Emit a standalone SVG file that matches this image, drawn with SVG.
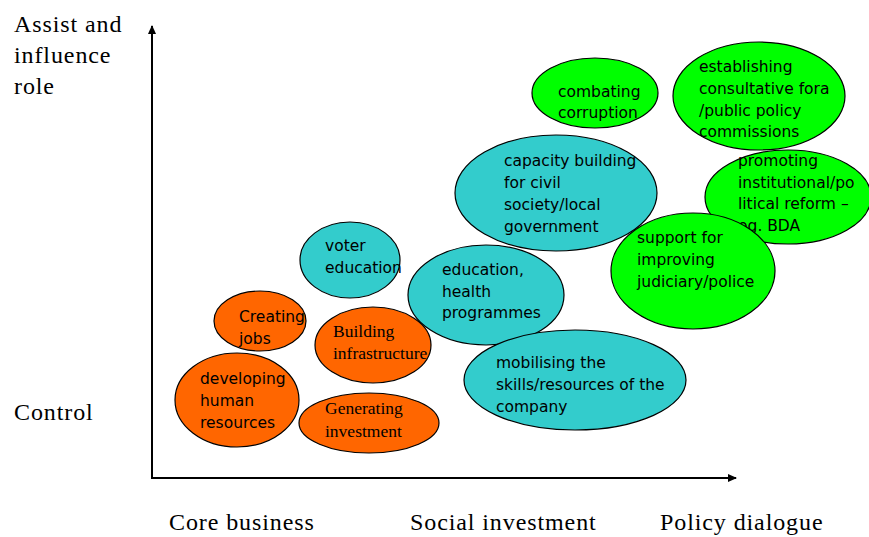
<svg xmlns="http://www.w3.org/2000/svg" width="869" height="537" viewBox="0 0 869 537">
<style>
.o{fill:#FF6600;stroke:#000;stroke-width:1.2}
.c{fill:#33CCCC;stroke:#000;stroke-width:1.2}
.g{fill:#00FF00;stroke:#000;stroke-width:1.2}
.t{font-family:"DejaVu Sans","Liberation Sans",sans-serif;font-size:15.5px;fill:#000}
.s{font-family:"Liberation Serif",serif;font-size:17.5px;fill:#000}
.a{font-family:"Liberation Serif",serif;font-size:24px;letter-spacing:0.9px;fill:#000}
.ax{stroke:#000;stroke-width:2;fill:none}
</style>
<defs>
<marker id="ah" markerWidth="10" markerHeight="10" refX="8" refY="5" orient="auto" markerUnits="userSpaceOnUse">
<path d="M0,1 L9,5 L0,9 Z" fill="#000"/>
</marker>
</defs>
<rect width="869" height="537" fill="#fff"/>
<g id="connectors">
<line class="ax" x1="152" y1="478" x2="152" y2="26" marker-end="url(#ah)"/>
<line class="ax" x1="151" y1="478" x2="736" y2="478" marker-end="url(#ah)"/>
</g>
<g id="axis-labels">
<text class="a" x="14" y="32">Assist and</text>
<text class="a" x="14" y="63">influence</text>
<text class="a" x="14" y="94">role</text>
<text class="a" x="14" y="420">Control</text>
<text class="a" x="169" y="530">Core business</text>
<text class="a" x="410" y="530">Social investment</text>
<text class="a" x="660" y="530">Policy dialogue</text>
</g>
<g id="combating">
<ellipse class="g" cx="595" cy="93" rx="63" ry="35"/>
<text class="t" x="558" y="97">combating</text>
<text class="t" x="558" y="118">corruption</text>
</g>
<g id="establishing">
<ellipse class="g" cx="759" cy="96" rx="86" ry="54"/>
<text class="t" x="699" y="72">establishing</text>
<text class="t" x="699" y="94">consultative fora</text>
<text class="t" x="699" y="116">/public policy</text>
<text class="t" x="699" y="137">commissions</text>
</g>
<g id="promoting">
<ellipse class="g" cx="788" cy="197" rx="83" ry="47"/>
<text class="t" x="738" y="166">promoting</text>
<text class="t" x="738" y="188">institutional/po</text>
<text class="t" x="738" y="209">litical reform –</text>
<text class="t" x="738" y="231">eg. BDA</text>
</g>
<g id="capacity">
<ellipse class="c" cx="556" cy="193" rx="101" ry="58"/>
<text class="t" x="504" y="166">capacity building</text>
<text class="t" x="504" y="188">for civil</text>
<text class="t" x="504" y="210">society/local</text>
<text class="t" x="504" y="232">government</text>
</g>
<g id="support">
<ellipse class="g" cx="693" cy="271" rx="82" ry="58"/>
<text class="t" x="637" y="243">support for</text>
<text class="t" x="637" y="265">improving</text>
<text class="t" x="637" y="287">judiciary/police</text>
</g>
<g id="voter">
<ellipse class="c" cx="350" cy="260" rx="50" ry="38"/>
<text class="t" x="325" y="251">voter</text>
<text class="t" x="325" y="273">education</text>
</g>
<g id="education">
<ellipse class="c" cx="486" cy="295" rx="78" ry="50"/>
<text class="t" x="442" y="275">education,</text>
<text class="t" x="442" y="297">health</text>
<text class="t" x="442" y="318">programmes</text>
</g>
<g id="mobilising">
<ellipse class="c" cx="575" cy="380" rx="111" ry="50"/>
<text class="t" x="496" y="368">mobilising the</text>
<text class="t" x="496" y="390">skills/resources of the</text>
<text class="t" x="496" y="412">company</text>
</g>
<g id="creating">
<ellipse class="o" cx="260" cy="321" rx="46" ry="30"/>
<text class="t" x="239" y="322">Creating</text>
<text class="t" x="239" y="344">jobs</text>
</g>
<g id="developing">
<ellipse class="o" cx="237" cy="400" rx="62" ry="47"/>
<text class="t" x="200" y="384">developing</text>
<text class="t" x="200" y="406">human</text>
<text class="t" x="200" y="428">resources</text>
</g>
<g id="building">
<ellipse class="o" cx="373" cy="345" rx="58" ry="38"/>
<text class="s" x="333" y="337">Building</text>
<text class="s" x="333" y="359">infrastructure</text>
</g>
<g id="generating">
<ellipse class="o" cx="369" cy="423" rx="70" ry="30"/>
<text class="s" x="325" y="414">Generating</text>
<text class="s" x="325" y="437">investment</text>
</g>
</svg>
